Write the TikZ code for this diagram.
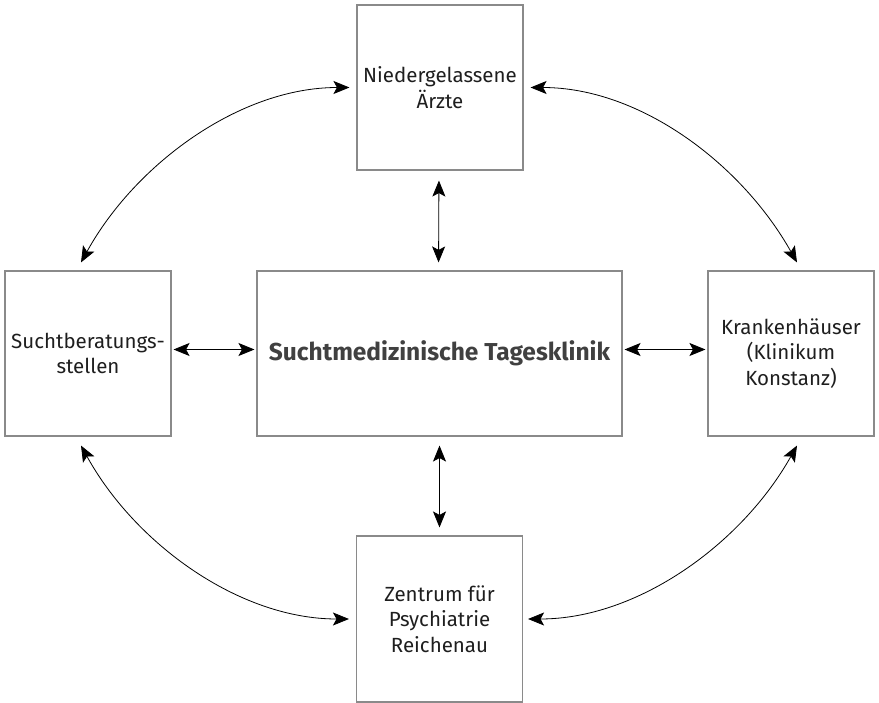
\documentclass[tikz,border=0pt]{standalone}
\usepackage{fontspec}
\setmainfont{Fira Sans}
\usetikzlibrary{arrows.meta}
\definecolor{boxgray}{HTML}{8A8A8A}
\definecolor{txt}{HTML}{1E1E1E}
\definecolor{maintxt}{HTML}{404040}
\tikzset{
  box/.style={draw=boxgray, line width=1.1pt, minimum width=166pt, minimum height=165pt,
    inner sep=0pt, align=center, text=txt, font=\fontsize{20.5}{25.5}\selectfont},
  link/.style={line width=0.8pt, {Stealth[length=16pt,width=13pt,inset=3.5pt]}-{Stealth[length=16pt,width=13pt,inset=3.5pt]}},
}
\begin{document}
\begin{tikzpicture}[x=1pt,y=-1pt]
\useasboundingbox (0,0) rectangle (879,703);
\node[box] (top) at (440,87.5) {Niedergelassene\\Ärzte};
\node[box] (left) at (88,353.5) {Suchtberatungs-\\stellen};
\node[box, minimum width=365pt, text=maintxt, font=\fontsize{24.5}{28}\selectfont\bfseries] (center) at (439.5,353.5) {Suchtmedizinische Tagesklinik};
\node[box] (right) at (791,353.5) {Krankenhäuser\\(Klinikum\\Konstanz)};
\node[box, minimum height=166pt] (bottom) at (439.5,619) {Zentrum für\\Psychiatrie\\Reichenau};

\draw[link, shorten <=2pt, shorten >=2pt] ([yshift=4pt]left.east) -- ([yshift=4pt]center.west);
\draw[link, shorten <=2pt, shorten >=2pt] ([yshift=4pt]center.east) -- ([yshift=4pt]right.west);
\draw[link, shorten <=10pt, shorten >=8pt] ([xshift=-1pt]top.south) -- ([xshift=-1pt]center.north);
\draw[link, shorten <=9pt, shorten >=8pt] (center.south) -- (bottom.north);

\coordinate (tl) at ([xshift=-7pt]top.west);
\coordinate (tr) at ([xshift=7pt]top.east);
\coordinate (lt) at ([xshift=-7pt,yshift=8pt]left.north);
\coordinate (lb) at ([xshift=-7pt,yshift=-9pt]left.south);
\coordinate (rt) at ([xshift=6pt,yshift=8pt]right.north);
\coordinate (rb) at ([xshift=6pt,yshift=-9pt]right.south);
\coordinate (bl) at ([xshift=-7pt]bottom.west);
\coordinate (br) at ([xshift=5pt]bottom.east);

\draw[link] (tl) .. controls +(-110,0) and +(54,-98) .. (lt);
\draw[link] (tr) .. controls +(110,0) and +(-55,-98) .. (rt);
\draw[link] (lb) .. controls +(54,98) and +(-110,0) .. (bl);
\draw[link] (rb) .. controls +(-55,98) and +(110,0) .. (br);
\end{tikzpicture}
\end{document}
